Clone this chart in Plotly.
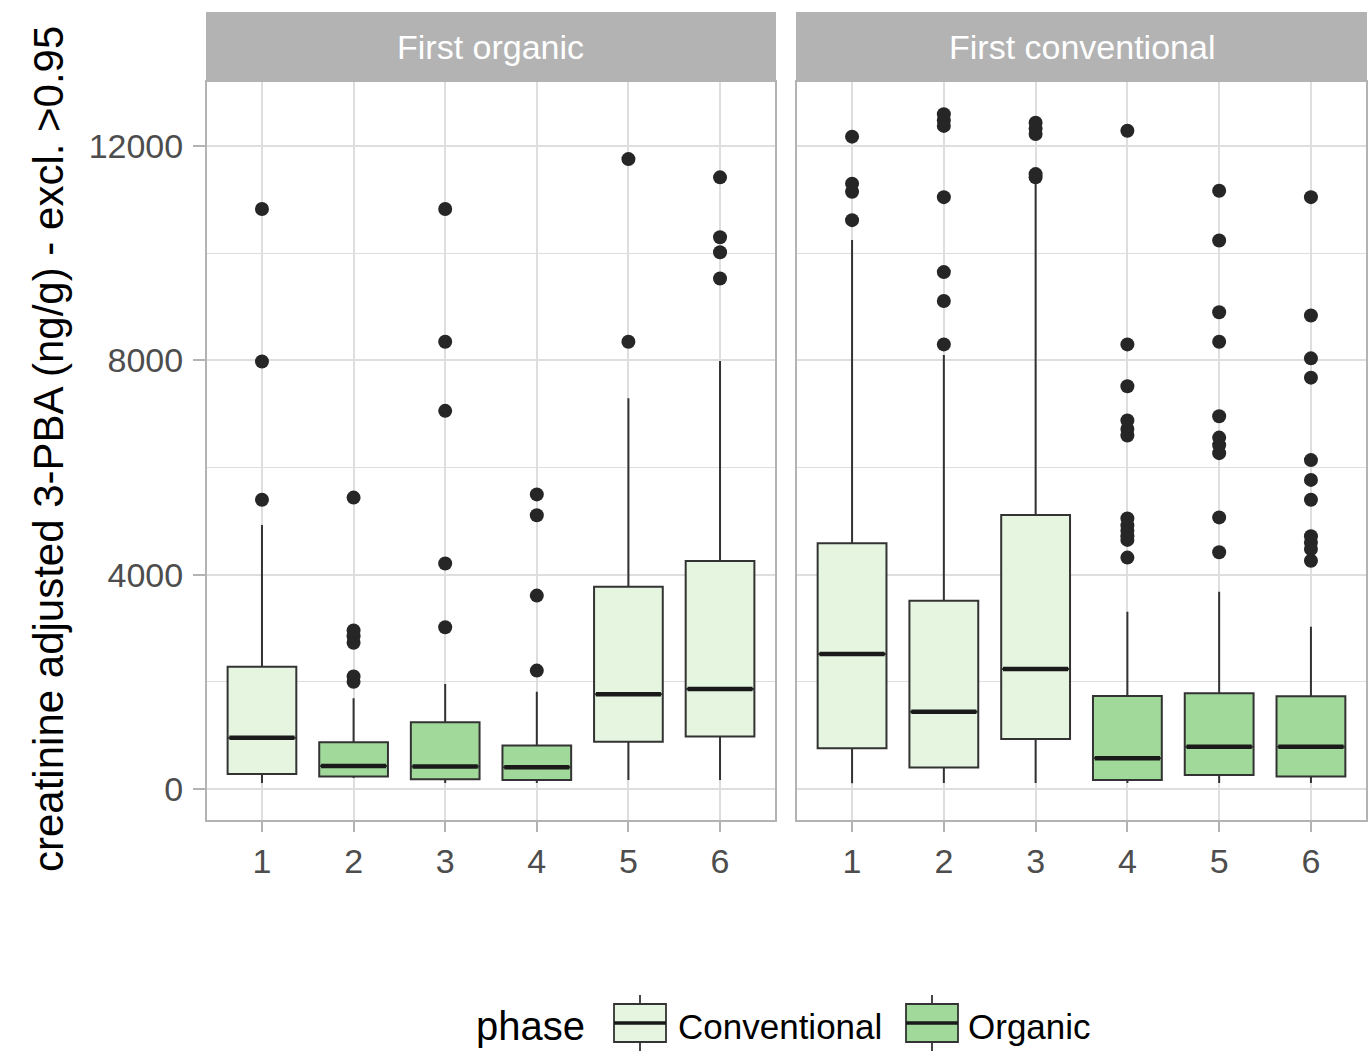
import plotly.graph_objects as go

W, H = 1370, 1053

# ---------------- data ----------------
facets = ["First organic", "First conventional"]
days = [1, 2, 3, 4, 5, 6]

# First organic panel
fo_phase = ["Conventional", "Organic", "Organic", "Organic", "Conventional", "Conventional"]
fo_q1 = [280, 230, 180, 168, 883, 977]
fo_med = [958, 429, 417, 405, 1768, 1867]
fo_q3 = [2283, 872, 1245, 809, 3777, 4257]
fo_lo = [112, 205, 112, 112, 168, 168]
fo_hi = [4929, 1693, 1960, 1817, 7294, 7990]
fo_out = [
    [5400, 7980, 10830],
    [2000, 2100, 2730, 2850, 2960, 5440],
    [3020, 4210, 7060, 8350, 10830],
    [2210, 3610, 5110, 5500],
    [8350, 11760],
    [9530, 10020, 10300, 11420],
]

# First conventional panel
fc_phase = ["Conventional", "Conventional", "Conventional", "Organic", "Organic", "Organic"]
fc_q1 = [759, 398, 933, 168, 261, 230]
fc_med = [2520, 1443, 2240, 572, 790, 790]
fc_q3 = [4587, 3515, 5116, 1736, 1786, 1730]
fc_lo = [106, 112, 112, 112, 112, 112]
fc_hi = [10250, 8103, 11300, 3310, 3684, 3030]
fc_out = [
    [10620, 11150, 11300, 12180],
    [8300, 9110, 9650, 11050, 12380, 12480, 12600],
    [11420, 11480, 12230, 12330, 12440],
    [4320, 4650, 4720, 4820, 4920, 5050, 6600, 6720, 6880, 7520, 8300, 12290],
    [4420, 5070, 6270, 6420, 6560, 6960, 8350, 8900, 10240, 11170],
    [4260, 4480, 4600, 4720, 5400, 5770, 6140, 7680, 8040, 8840, 11050],
]

phase_colors = {"Conventional": "#E5F5E0", "Organic": "#A1D99B"}
y_ticks = [0, 4000, 8000, 12000]

# ---------------- layout geometry ----------------
px = lambda x: x / W
py = lambda y: 1 - y / H

panel_x = [(207, 775), (797, 1366)]
panel_top, panel_bot = 82, 820
strip_top = 12
box_w = 0.75
line_col = "#333333"
FONT = "Liberation Sans, Arial, sans-serif"

fig = go.Figure()

panels = [
    (fo_phase, fo_q1, fo_med, fo_q3, fo_lo, fo_hi, fo_out),
    (fc_phase, fc_q1, fc_med, fc_q3, fc_lo, fc_hi, fc_out),
]

for pi, (ph, q1, med, q3, lo, hi, outs) in enumerate(panels):
    xa = "x" if pi == 0 else "x2"
    ya = "y" if pi == 0 else "y2"
    for phase in ["Conventional", "Organic"]:
        idx = [i for i, p in enumerate(ph) if p == phase]
        if not idx:
            continue
        fig.add_trace(go.Box(
            x=[days[i] for i in idx],
            q1=[q1[i] for i in idx],
            median=[med[i] for i in idx],
            q3=[q3[i] for i in idx],
            lowerfence=[lo[i] for i in idx],
            upperfence=[hi[i] for i in idx],
            width=box_w,
            whiskerwidth=0,
            fillcolor=phase_colors[phase],
            line=dict(color=line_col, width=2),
            boxpoints=False,
            showlegend=False,
            hoverinfo="skip",
            xaxis=xa, yaxis=ya,
        ))
    # thick median lines
    mx, my = [], []
    for i, d in enumerate(days):
        mx += [d - box_w / 2 + 0.02, d + box_w / 2 - 0.02, None]
        my += [med[i], med[i], None]
    fig.add_trace(go.Scatter(
        x=mx, y=my, mode="lines",
        line=dict(color="#1a1a1a", width=4.5),
        showlegend=False, hoverinfo="skip", xaxis=xa, yaxis=ya,
    ))
    # outliers
    ox, oy = [], []
    for i, d in enumerate(days):
        ox += [d] * len(outs[i])
        oy += outs[i]
    fig.add_trace(go.Scatter(
        x=ox, y=oy, mode="markers",
        marker=dict(color="#262626", size=14, line=dict(width=0)),
        showlegend=False, hoverinfo="skip", xaxis=xa, yaxis=ya,
    ))

axis_common = dict(
    showgrid=True, gridcolor="#DEDEDE", gridwidth=1.5,
    showline=True, mirror=True, linecolor="#B3B3B3", linewidth=2,
    zeroline=False,
    tickfont=dict(family=FONT, size=34, color="#4D4D4D"),
)

yr = [-580, 13200]
fig.update_layout(
    width=W, height=H,
    margin=dict(l=0, r=0, t=0, b=0),
    paper_bgcolor="white", plot_bgcolor="white",
    showlegend=False,
    xaxis=dict(domain=[px(panel_x[0][0]), px(panel_x[0][1])], range=[0.4, 6.6],
               tickvals=days, ticktext=[str(d) for d in days],
               ticks="outside", ticklen=10, tickwidth=2, tickcolor="#B3B3B3",
               anchor="y", **axis_common),
    xaxis2=dict(domain=[px(panel_x[1][0]), px(panel_x[1][1])], range=[0.4, 6.6],
                tickvals=days, ticktext=[str(d) for d in days],
                ticks="outside", ticklen=10, tickwidth=2, tickcolor="#B3B3B3",
                anchor="y2", **axis_common),
    yaxis=dict(domain=[py(panel_bot), py(panel_top)], range=yr,
               tickvals=y_ticks, ticktext=[str(v) for v in y_ticks],
               ticks="outside", ticklen=12, tickwidth=2, tickcolor="#B3B3B3",
               ticklabelstandoff=3,
               minor=dict(dtick=2000, tick0=0, showgrid=True, gridcolor="#DEDEDE", gridwidth=1.2, ticks=""),
               anchor="x", **axis_common),
    yaxis2=dict(domain=[py(panel_bot), py(panel_top)], range=yr,
                tickvals=y_ticks, showticklabels=False, ticks="",
                minor=dict(dtick=2000, tick0=0, showgrid=True, gridcolor="#DEDEDE", gridwidth=1.2, ticks=""),
                anchor="x2", **axis_common),
)

shapes = []
annotations = []
# facet strips
for pi, (x0, x1) in enumerate(panel_x):
    shapes.append(dict(type="rect", xref="paper", yref="paper",
                       x0=px(x0 - 1), x1=px(x1 + 1), y0=py(panel_top), y1=py(strip_top),
                       fillcolor="#B3B3B3", line=dict(width=0), layer="above"))
    annotations.append(dict(xref="paper", yref="paper", x=px((x0 + x1) / 2), y=py((strip_top + panel_top) / 2),
                            text=facets[pi], showarrow=False, xanchor="center", yanchor="middle",
                            font=dict(family=FONT, size=34, color="white")))

# y-axis title
annotations.append(dict(xref="paper", yref="paper", x=px(48), y=py((panel_top + panel_bot) / 2 - 2),
                        text="creatinine adjusted 3-PBA (ng/g) - excl. >0.95", textangle=-90,
                        showarrow=False, xanchor="center", yanchor="middle",
                        font=dict(family=FONT, size=42, color="black")))

# legend (drawn manually, ggplot style)
annotations.append(dict(xref="paper", yref="paper", x=px(474), y=py(1026), text="phase",
                        showarrow=False, xanchor="left", yanchor="middle",
                        font=dict(family=FONT, size=40, color="black")))
legend_items = [("Conventional", 614, 676), ("Organic", 906, 966)]
for name, kx, tx in legend_items:
    kw = 52
    cx = kx + kw / 2
    shapes.append(dict(type="line", xref="paper", yref="paper", x0=px(cx), x1=px(cx), y0=py(995), y1=py(1051),
                       line=dict(color=line_col, width=1.8)))
    shapes.append(dict(type="rect", xref="paper", yref="paper", x0=px(kx), x1=px(kx + kw), y0=py(1042), y1=py(1004),
                       fillcolor=phase_colors[name], line=dict(color=line_col, width=1.8)))
    shapes.append(dict(type="line", xref="paper", yref="paper", x0=px(kx), x1=px(kx + kw), y0=py(1023), y1=py(1023),
                       line=dict(color="#1a1a1a", width=3.5)))
    annotations.append(dict(xref="paper", yref="paper", x=px(tx), y=py(1026), text=name,
                            showarrow=False, xanchor="left", yanchor="middle",
                            font=dict(family=FONT, size=35, color="black")))

fig.update_layout(shapes=shapes, annotations=annotations)
fig.write_html("out.html",
               config={"displayModeBar": False},
               post_script="document.body.style.margin='0';document.body.style.padding='0';")
